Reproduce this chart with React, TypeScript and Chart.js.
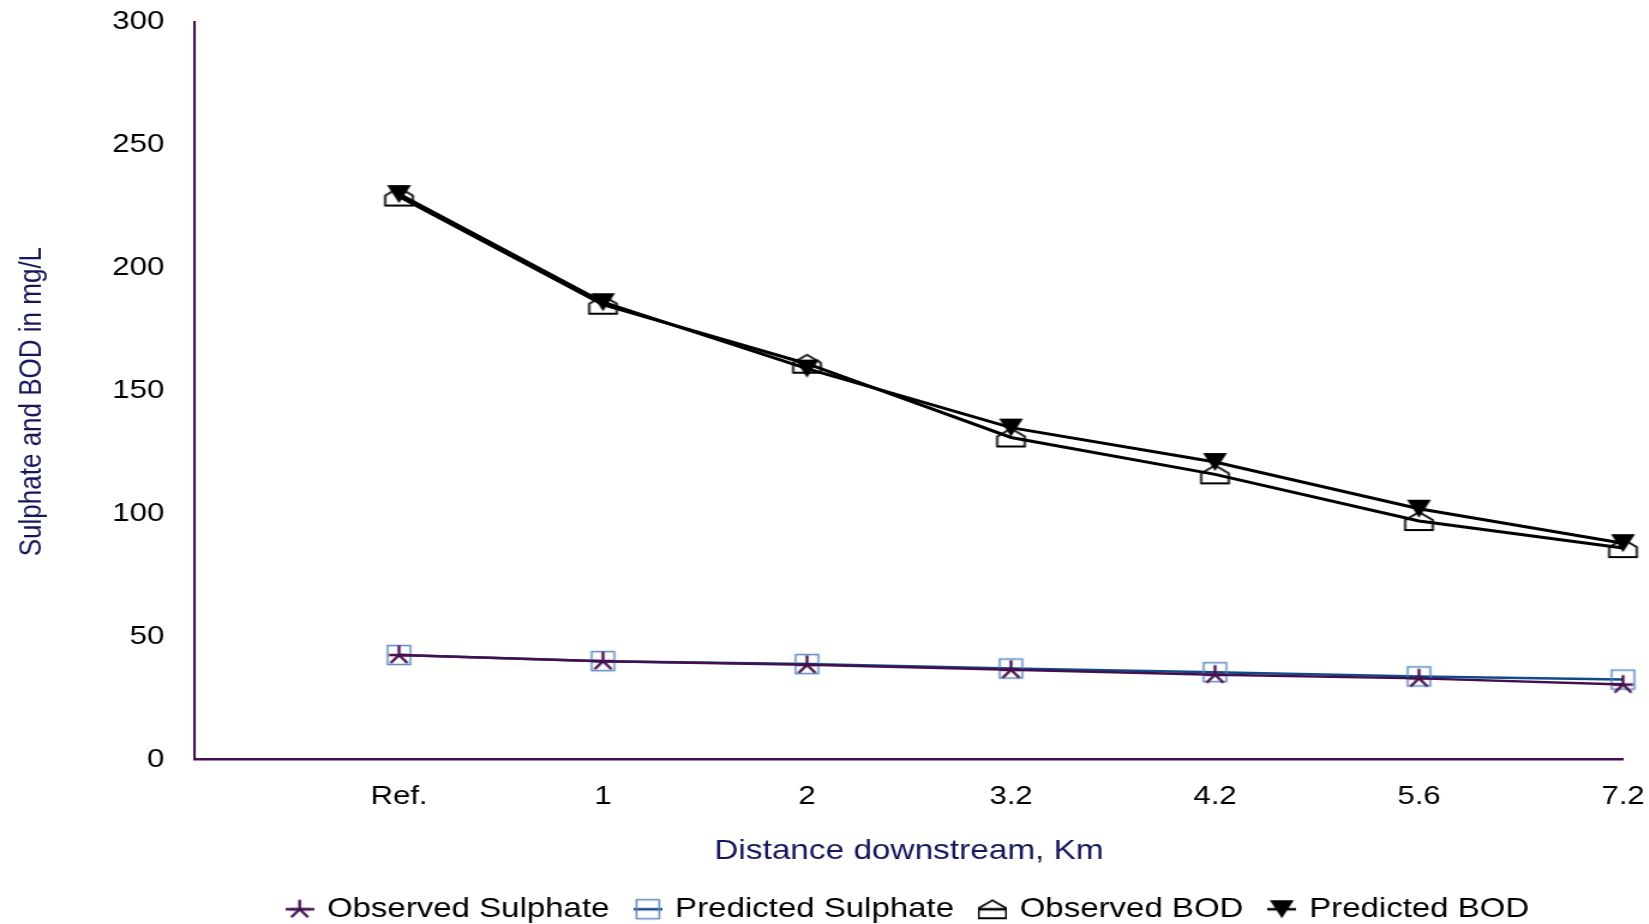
import React, { useEffect, useRef } from 'react';
import { Chart, registerables } from 'chart.js';

Chart.register(...registerables);

// ---- Data ----
const categories = ['Ref.', '1', '2', '3.2', '4.2', '5.6', '7.2'];
const observedSulphate = [42.5, 40, 38.5, 36.5, 34.5, 33, 30.5];
const predictedSulphate = [42.5, 40, 38.8, 37, 35.5, 33.8, 32.5];
const observedBOD = [229, 185, 161, 131, 116, 97, 86];
const predictedBOD = [230, 186, 159, 135, 121, 102, 88];
const yTickValues = [0, 50, 100, 150, 200, 250, 300];
const seriesNames = ['Observed Sulphate', 'Predicted Sulphate', 'Observed BOD', 'Predicted BOD'];

// ---- Layout / style ----
const SX = 1.2; // the reference is horizontally stretched
const PAGE_W = 1649;
const PAGE_H = 924;
const CW = Math.round(PAGE_W / SX);
const CH = 933;

const PURPLE = '#440F4E';
const BLUE_LINE = '#0F4B8A';
const BLUE_MARK = '#5B87BF';
const NAVY = '#16165A';
const FONT = "'Liberation Sans', Arial, Helvetica, sans-serif";

type Ctx = CanvasRenderingContext2D;

function makeCanvas(w: number, h: number, draw: (ctx: Ctx) => void) {
  const c = document.createElement('canvas');
  c.width = w;
  c.height = h;
  const ctx = c.getContext('2d') as Ctx;
  draw(ctx);
  return c;
}

function drawStar(ctx: Ctx, cx: number, cy: number) {
  ctx.strokeStyle = PURPLE;
  ctx.lineWidth = 2.4;
  ctx.beginPath();
  ctx.moveTo(cx, cy - 9.5);
  ctx.lineTo(cx, cy + 1);
  ctx.moveTo(cx, cy);
  ctx.lineTo(cx - 7, cy + 8);
  ctx.moveTo(cx, cy);
  ctx.lineTo(cx + 7, cy + 8);
  ctx.moveTo(cx - 8.5, cy);
  ctx.lineTo(cx + 8.5, cy);
  ctx.stroke();
}

function drawSquare(ctx: Ctx, cx: number, cy: number) {
  ctx.strokeStyle = BLUE_MARK;
  ctx.lineWidth = 1.5;
  ctx.strokeRect(cx - 9.5, cy - 9.5, 19, 19);
}

function drawHouse(ctx: Ctx, cx: number, cy: number) {
  ctx.strokeStyle = '#000';
  ctx.lineWidth = 1.8;
  ctx.beginPath();
  ctx.moveTo(cx - 11.5, cy - 1);
  ctx.lineTo(cx - 11.5, cy + 9);
  ctx.lineTo(cx + 11.5, cy + 9);
  ctx.lineTo(cx + 11.5, cy - 1);
  ctx.lineTo(cx, cy - 9);
  ctx.closePath();
  ctx.stroke();
}

function drawTriangle(ctx: Ctx, cx: number, cy: number) {
  ctx.fillStyle = '#000';
  ctx.beginPath();
  ctx.moveTo(cx - 10, cy - 9);
  ctx.lineTo(cx + 10, cy - 9);
  ctx.lineTo(cx, cy + 9);
  ctx.closePath();
  ctx.fill();
}

function markerCanvas(draw: (ctx: Ctx, cx: number, cy: number) => void) {
  return makeCanvas(28, 24, (ctx) => draw(ctx, 14, 12));
}

function legendIcon(lineColor: string, lineWidth: number, draw: (ctx: Ctx, cx: number, cy: number) => void) {
  return makeCanvas(24, 24, (ctx) => {
    ctx.strokeStyle = lineColor;
    ctx.lineWidth = lineWidth;
    ctx.beginPath();
    ctx.moveTo(0, 12);
    ctx.lineTo(24, 12);
    ctx.stroke();
    draw(ctx, 12, 12);
  });
}

const toPoints = (arr: number[]) => arr.map((y, i) => ({ x: i, y }));

export default function App() {
  const canvasRef = useRef<HTMLCanvasElement | null>(null);

  useEffect(() => {
    const canvas = canvasRef.current;
    if (!canvas) return;

    const starImg = markerCanvas(drawStar);
    const squareImg = markerCanvas(drawSquare);
    const houseImg = markerCanvas(drawHouse);
    const triImg = markerCanvas(drawTriangle);

    const icons = [
      legendIcon(PURPLE, 2.5, drawStar),
      legendIcon(BLUE_LINE, 2.5, drawSquare),
      legendIcon('#000', 2.5, drawHouse),
      legendIcon('#000', 2.5, drawTriangle),
    ];

    const common = { pointRadius: 3, pointBorderWidth: 0, clip: false as any };

    const chart = new Chart(canvas, {
      type: 'line',
      data: {
        datasets: [
          {
            label: seriesNames[0],
            data: toPoints(observedSulphate),
            borderColor: PURPLE,
            borderWidth: 2.5,
            pointStyle: starImg as any,
            order: 1,
            ...common,
          },
          {
            label: seriesNames[1],
            data: toPoints(predictedSulphate),
            borderColor: BLUE_LINE,
            borderWidth: 2.5,
            pointStyle: squareImg as any,
            order: 2,
            ...common,
          },
          {
            label: seriesNames[2],
            data: toPoints(observedBOD),
            borderColor: '#000',
            borderWidth: 3,
            pointStyle: houseImg as any,
            order: 4,
            ...common,
          },
          {
            label: seriesNames[3],
            data: toPoints(predictedBOD),
            borderColor: '#000',
            borderWidth: 3,
            pointStyle: triImg as any,
            order: 3,
            ...common,
          },
        ],
      },
      options: {
        animation: false,
        responsive: false,
        devicePixelRatio: 1,
        layout: { autoPadding: false, padding: { top: 22, right: 21.5, left: 0, bottom: 0 } },
        elements: { line: { tension: 0 } },
        scales: {
          x: {
            type: 'linear',
            min: -1,
            max: categories.length - 1,
            grid: { display: false, drawTicks: false },
            border: { display: true, color: PURPLE, width: 2.5 },
            afterFit: (scale: any) => {
              scale.height = 113;
              scale.paddingLeft = 0;
              scale.paddingRight = 0;
            },
            ticks: {
              stepSize: 1,
              autoSkip: false,
              padding: 21.4,
              color: '#000',
              font: { family: FONT, size: 26 },
              maxRotation: 0,
              callback: (v: any) => {
                const i = Number(v);
                return Number.isInteger(i) && i >= 0 ? categories[i] : '';
              },
            },
            title: {
              display: true,
              text: 'Distance downstream, Km',
              color: NAVY,
              font: { family: FONT, size: 27.8 },
              padding: { top: 21, bottom: 4 },
            },
          },
          y: {
            type: 'linear',
            min: yTickValues[0],
            max: yTickValues[yTickValues.length - 1],
            grid: { display: false, drawTicks: false },
            border: { display: true, color: PURPLE, width: 2.1 },
            afterBuildTicks: (scale: any) => {
              scale.ticks = yTickValues.map((value) => ({ value }));
            },
            afterFit: (scale: any) => {
              scale.width = 162.5;
              scale.paddingTop = 0;
              scale.paddingBottom = 0;
            },
            ticks: {
              padding: 25.5,
              color: '#000',
              font: { family: FONT, size: 26 },
            },
            title: {
              display: true,
              text: 'Sulphate and BOD in mg/L   ',
              color: NAVY,
              font: { family: FONT, size: 26 },
              padding: { top: 11, bottom: 0 },
            },
          },
        },
        plugins: {
          tooltip: { enabled: false },
          legend: {
            display: true,
            position: 'bottom',
            align: 'center',
            fullSize: false,
            labels: {
              usePointStyle: true,
              pointStyleWidth: 18,
              padding: 23,
              color: '#000',
              font: { family: FONT, size: 27.5 },
              generateLabels: () =>
                seriesNames.map((text, i) => ({
                  text,
                  datasetIndex: i,
                  pointStyle: icons[i] as any,
                  fillStyle: 'rgba(0,0,0,0)',
                  strokeStyle: 'rgba(0,0,0,0)',
                  lineWidth: 0,
                  hidden: false,
                })),
            },
          },
        },
      } as any,
    });

    return () => {
      chart.destroy();
    };
  }, []);

  return (
    <div
      style={{
        position: 'fixed',
        left: 0,
        top: 0,
        width: PAGE_W,
        height: PAGE_H,
        overflow: 'hidden',
        background: '#fff',
      }}
    >
      <canvas
        ref={canvasRef}
        width={CW}
        height={CH}
        style={{
          position: 'absolute',
          left: 0,
          top: 0,
          width: CW,
          height: CH,
          transform: `scaleX(${SX})`,
          transformOrigin: '0 0',
        }}
      />
    </div>
  );
}
